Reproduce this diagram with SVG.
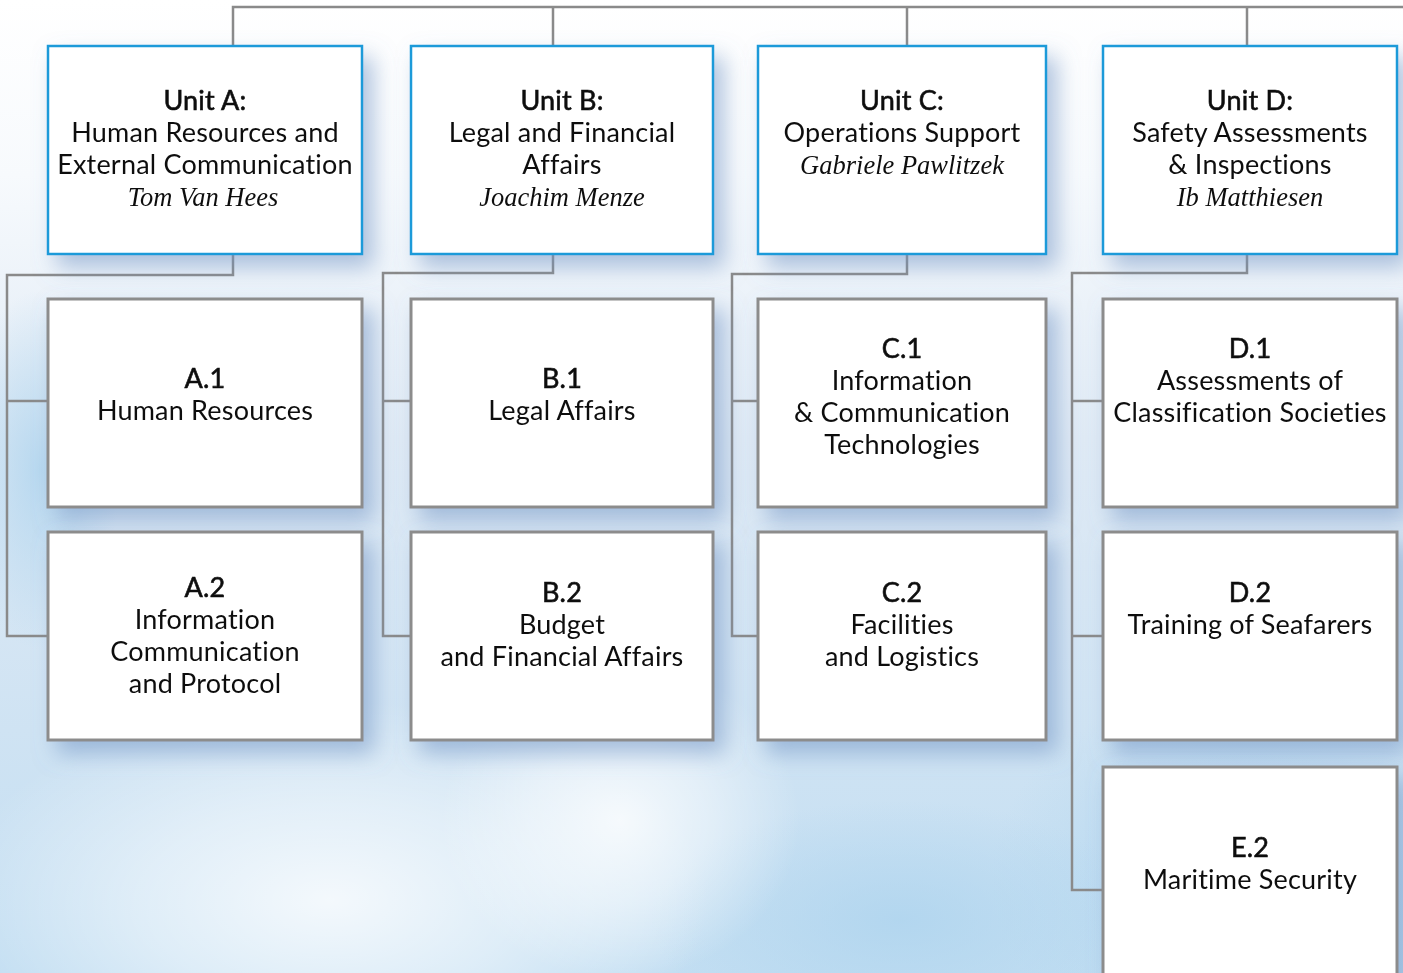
<svg xmlns="http://www.w3.org/2000/svg" width="1403" height="973" viewBox="0 0 1403 973">
<defs>
  <linearGradient id="bg" x1="0" y1="0" x2="0" y2="1">
    <stop offset="0" stop-color="#ffffff"/>
    <stop offset="0.18" stop-color="#f7fafd"/>
    <stop offset="0.45" stop-color="#dfeaf5"/>
    <stop offset="0.75" stop-color="#cfe3f3"/>
    <stop offset="1" stop-color="#c2def2"/>
  </linearGradient>
  <radialGradient id="glow" cx="0.5" cy="0.5" r="0.5">
    <stop offset="0" stop-color="#ffffff" stop-opacity="0.8"/>
    <stop offset="0.5" stop-color="#ffffff" stop-opacity="0.45"/>
    <stop offset="1" stop-color="#ffffff" stop-opacity="0"/>
  </radialGradient>
  <radialGradient id="blue" cx="0.5" cy="0.5" r="0.5">
    <stop offset="0" stop-color="#aed4ee" stop-opacity="0.8"/>
    <stop offset="1" stop-color="#aed4ee" stop-opacity="0"/>
  </radialGradient>
  <filter id="sh" x="-20%" y="-20%" width="150%" height="150%">
    <feDropShadow dx="10" dy="12" stdDeviation="11" flood-color="#6f93c4" flood-opacity="0.55"/>
  </filter>
  <style>
    .unit{fill:#ffffff;stroke:#1b9ad9;stroke-width:2.5}
    .sub{fill:#ffffff;stroke:#8c8c8c;stroke-width:3}
    .ln{fill:none;stroke:#8a8a8a;stroke-width:2.5}
    .t{font-family:Lato,"Open Sans","Liberation Sans",sans-serif;font-size:27px;fill:#111;text-anchor:middle;letter-spacing:0.2px}
    .h{stroke:#111;stroke-width:0.6}
    .n{font-family:"Liberation Serif","Times New Roman",serif;font-style:italic;font-size:26.5px;fill:#111;text-anchor:middle}
  </style>
</defs>
<rect width="1403" height="973" fill="url(#bg)"/>
<ellipse cx="1250" cy="880" rx="260" ry="200" fill="url(#blue)"/>
<ellipse cx="900" cy="920" rx="250" ry="120" fill="url(#blue)"/>
<ellipse cx="40" cy="470" rx="80" ry="180" fill="url(#blue)"/>
<ellipse cx="330" cy="900" rx="380" ry="200" fill="url(#glow)"/>
<ellipse cx="620" cy="820" rx="180" ry="160" fill="url(#glow)"/>

<g id="connectors">
  <path class="ln" d="M233 46 V7 H1403 M553 46 V7 M907 46 V7 M1247 46 V7"/>
  <path class="ln" d="M233 254 V275 H7 V636 H48 M7 401 H48"/>
  <path class="ln" d="M553 254 V273 H383 V636 H411 M383 401 H411"/>
  <path class="ln" d="M907 254 V274 H732 V636 H758 M732 401 H758"/>
  <path class="ln" d="M1247 254 V273 H1072 V890 H1103 M1072 401 H1103 M1072 636 H1103"/>
</g>

<g id="unitA" filter="url(#sh)">
  <rect class="unit" x="48" y="46" width="314" height="208"/>
  <text class="t h" x="205" y="110">Unit A:</text>
  <text class="t" x="205" y="142">Human Resources and</text>
  <text class="t" x="205" y="174">External Communication</text>
  <text class="n" x="203" y="206">Tom Van Hees</text>
</g>
<g id="unitB" filter="url(#sh)">
  <rect class="unit" x="411" y="46" width="302" height="208"/>
  <text class="t h" x="562" y="110">Unit B:</text>
  <text class="t" x="562" y="142">Legal and Financial</text>
  <text class="t" x="562" y="174">Affairs</text>
  <text class="n" x="562" y="206">Joachim Menze</text>
</g>
<g id="unitC" filter="url(#sh)">
  <rect class="unit" x="758" y="46" width="288" height="208"/>
  <text class="t h" x="902" y="110">Unit C:</text>
  <text class="t" x="902" y="142">Operations Support</text>
  <text class="n" x="902" y="174">Gabriele Pawlitzek</text>
</g>
<g id="unitD" filter="url(#sh)">
  <rect class="unit" x="1103" y="46" width="294" height="208"/>
  <text class="t h" x="1250" y="110">Unit D:</text>
  <text class="t" x="1250" y="142">Safety Assessments</text>
  <text class="t" x="1250" y="174">&amp; Inspections</text>
  <text class="n" x="1250" y="206">Ib Matthiesen</text>
</g>

<g id="A1" filter="url(#sh)">
  <rect class="sub" x="48" y="299" width="314" height="208"/>
  <text class="t h" x="205" y="388">A.1</text>
  <text class="t" x="205" y="420">Human Resources</text>
</g>
<g id="B1" filter="url(#sh)">
  <rect class="sub" x="411" y="299" width="302" height="208"/>
  <text class="t h" x="562" y="388">B.1</text>
  <text class="t" x="562" y="420">Legal Affairs</text>
</g>
<g id="C1" filter="url(#sh)">
  <rect class="sub" x="758" y="299" width="288" height="208"/>
  <text class="t h" x="902" y="358">C.1</text>
  <text class="t" x="902" y="390">Information</text>
  <text class="t" x="902" y="422">&amp; Communication</text>
  <text class="t" x="902" y="454">Technologies</text>
</g>
<g id="D1" filter="url(#sh)">
  <rect class="sub" x="1103" y="299" width="294" height="208"/>
  <text class="t h" x="1250" y="358">D.1</text>
  <text class="t" x="1250" y="390">Assessments of</text>
  <text class="t" x="1250" y="422">Classification Societies</text>
</g>

<g id="A2" filter="url(#sh)">
  <rect class="sub" x="48" y="532" width="314" height="208"/>
  <text class="t h" x="205" y="597">A.2</text>
  <text class="t" x="205" y="629">Information</text>
  <text class="t" x="205" y="661">Communication</text>
  <text class="t" x="205" y="693">and Protocol</text>
</g>
<g id="B2" filter="url(#sh)">
  <rect class="sub" x="411" y="532" width="302" height="208"/>
  <text class="t h" x="562" y="602">B.2</text>
  <text class="t" x="562" y="634">Budget</text>
  <text class="t" x="562" y="666">and Financial Affairs</text>
</g>
<g id="C2" filter="url(#sh)">
  <rect class="sub" x="758" y="532" width="288" height="208"/>
  <text class="t h" x="902" y="602">C.2</text>
  <text class="t" x="902" y="634">Facilities</text>
  <text class="t" x="902" y="666">and Logistics</text>
</g>
<g id="D2" filter="url(#sh)">
  <rect class="sub" x="1103" y="532" width="294" height="208"/>
  <text class="t h" x="1250" y="602">D.2</text>
  <text class="t" x="1250" y="634">Training of Seafarers</text>
</g>
<g id="E2" filter="url(#sh)">
  <rect class="sub" x="1103" y="767" width="294" height="220"/>
  <text class="t h" x="1250" y="857">E.2</text>
  <text class="t" x="1250" y="889">Maritime Security</text>
</g>
</svg>
